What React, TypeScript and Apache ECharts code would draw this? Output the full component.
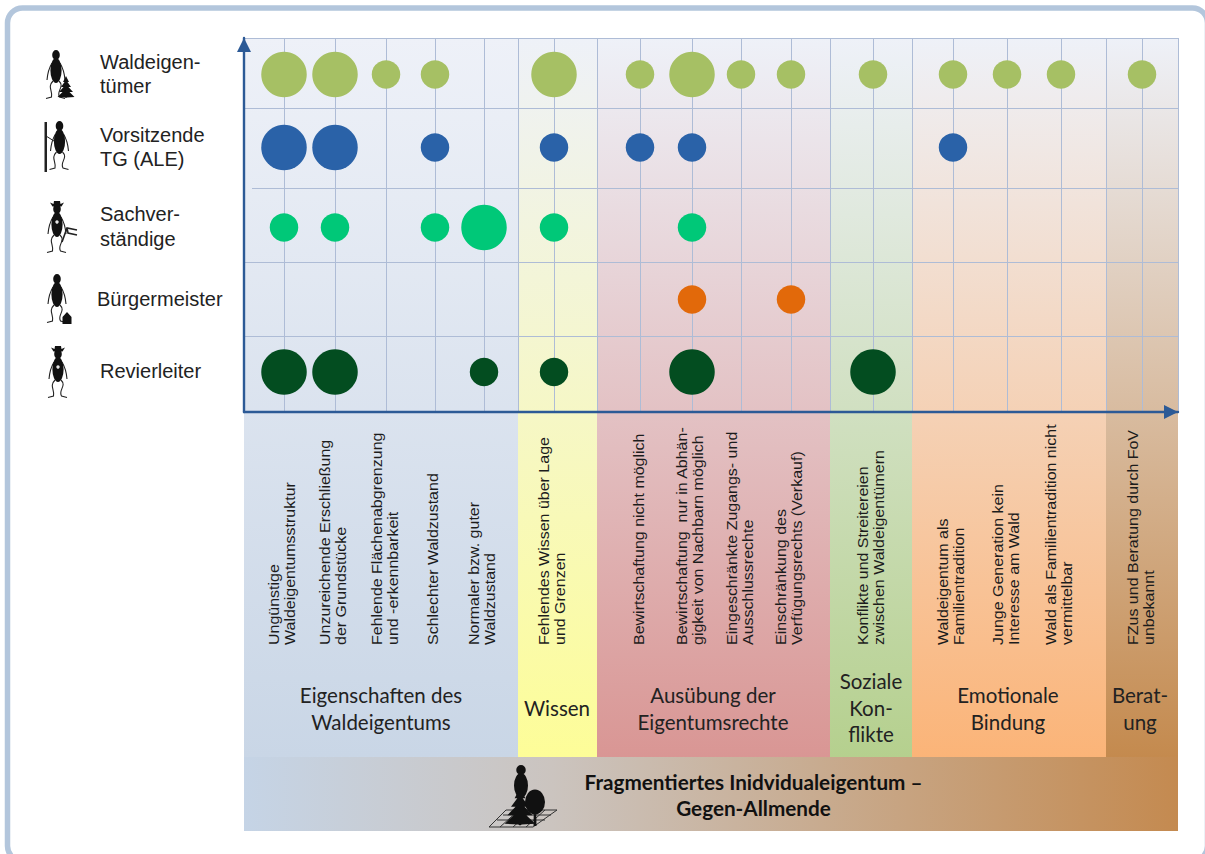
import React, { useEffect, useRef } from "react";
import * as echarts from "echarts";

// ---- data ----
// column positions along the horizontal scale (distance from the vertical axis)
const columnPositions = [40, 91, 142, 191, 240, 310, 396, 448, 497, 547, 629, 709, 763, 817, 898];
const groupDividers = [274, 353, 586, 668, 862, 934];
const rowDividers = [76, 150, 224, 304, 374];
const axisMaxX = 934;
const axisMaxY = 374;

const rowPositions = { waldeigentuemer: 337.5, vorsitzende: 264.5, sachverstaendige: 184.5, buergermeister: 112.5, revierleiter: 40 };

// importance level per column: 0 none, 1 small, 2 large
const waldeigentuemer = [2, 2, 1, 1, 0, 2, 1, 2, 1, 1, 1, 1, 1, 1, 1];
const vorsitzende = [2, 2, 0, 1, 0, 1, 1, 1, 0, 0, 0, 1, 0, 0, 0];
const sachverstaendige = [1, 1, 0, 1, 2, 1, 0, 1, 0, 0, 0, 0, 0, 0, 0];
const buergermeister = [0, 0, 0, 0, 0, 0, 0, 1, 0, 1, 0, 0, 0, 0, 0];
const revierleiter = [2, 2, 0, 0, 1, 1, 0, 2, 0, 0, 2, 0, 0, 0, 0];

const categories = [
  "Ungünstige\nWaldeigentumsstruktur",
  "Unzureichende Erschließung\nder Grundstücke",
  "Fehlende Flächenabgrenzung\nund -erkennbarkeit",
  "Schlechter Waldzustand",
  "Normaler bzw. guter\nWaldzustand",
  "Fehlendes Wissen über Lage\nund Grenzen",
  "Bewirtschaftung nicht möglich",
  "Bewirtschaftung  nur in Abhän-\ngigkeit von Nachbarn möglich",
  "Eingeschränkte Zugangs- und\nAusschlussrechte",
  "Einschränkung des\nVerfügungsrechts (Verkauf)",
  "Konflikte und Streitereien\nzwischen Waldeigentümern",
  "Waldeigentum als\nFamilientradition",
  "Junge Generation kein\nInteresse am Wald",
  "Wald als Familientradition nicht\nvermittelbar",
  "FZus und Beratung durch FoV\nunbekannt",
];
const categoryCentres = [282, 333, 385, 433, 482, 552, 639, 690, 740, 789, 871, 951, 1006, 1059, 1141];

const groups = ["Eigenschaften des\nWaldeigentums", "Wissen", "Ausübung der\nEigentumsrechte", "Soziale\nKon-\nflikte", "Emotionale\nBindung", "Berat-\nung"];
const groupColours = ["#c9d6e6", "#fdfd98", "#d99694", "#b5d08e", "#fbb478", "#c48a4e"];
const groupCentres = [381, 557, 713, 871, 1008, 1140];
const footerTitle = "Fragmentiertes Inidvidualeigentum –\nGegen-Allmende";

const actors = ["Waldeigen-\ntümer", "Vorsitzende\nTG (ALE)", "Sachver-\nständige", "Bürgermeister", "Revierleiter"];
const actorColours = ["#a6c064", "#2a62a8", "#00c878", "#e2690a", "#034d20"];

// ---- icon shapes ----
const ell = (cx: number, cy: number, rx: number, ry: number) =>
  `M${cx - rx} ${cy}A${rx} ${ry} 0 1 1 ${cx + rx} ${cy}A${rx} ${ry} 0 1 1 ${cx - rx} ${cy}Z`;
const bodyPath = ell(0, 5, 3.8, 5) + ell(0, 20.5, 5.6, 12.5);
const limbsPath =
  "M-4 13C-7 18-8.5 24-9 30M4 13C7 18 8.5 24 9 30" +
  "M-3 31C-9 37-3 41-4.5 47L-10 48.5M3 31C9 37 0 41 3.5 47L9 48.5";
const firPath =
  "M0 0L3 6L1.5 6L5 11L2.5 11L7 16L3.5 16L8.5 21L1 21.5L0 22L-1 21.5L-8.5 21L-3.5 16L-7 16L-2.5 11L-5 11L-1.5 6L-3 6Z";
const hatPath = "M-7 1.5L-3.5 3L-3 0L3 0L3.5 3L7 1.5L4.5 5.5L-4.5 5.5Z";
const housePath = "M0 0L4.5 5L4.5 12L-4.5 12L-4.5 5Z";
const rakePath = "M0 0L5 -14L15 -12M5 -14L6 -9L15 -7";
const treePath = ell(0, 12, 10, 12.5) + "M-1.2 20L1.2 20L1.5 36L-1.5 36Z";
const plotPath = "M0 17L17 0L68 0L44 17ZM11 17L30 0M24 17L43 0M37 17L56 0M8 10L56 10M14 5L62 5";
echarts.graphic.registerShape("personBody", echarts.graphic.extendPath(bodyPath, {}));
echarts.graphic.registerShape("personLimbs", echarts.graphic.extendPath(limbsPath, {}));
echarts.graphic.registerShape("fir", echarts.graphic.extendPath(firPath, {}));
echarts.graphic.registerShape("hat", echarts.graphic.extendPath(hatPath, {}));
echarts.graphic.registerShape("house", echarts.graphic.extendPath(housePath, {}));
echarts.graphic.registerShape("rake", echarts.graphic.extendPath(rakePath, {}));
echarts.graphic.registerShape("roundTree", echarts.graphic.extendPath(treePath, {}));
echarts.graphic.registerShape("plot", echarts.graphic.extendPath(plotPath, {}));

const INK = "#111111";
const person = (x: number, y: number, badge = false): any[] => {
  const out: any[] = [
    { type: "personLimbs", x, y, style: { fill: "none", stroke: "#222", lineWidth: 1.1 } },
    { type: "personBody", x, y, style: { fill: INK } },
  ];
  if (badge) out.push({ type: "circle", shape: { cx: x, cy: y + 18, r: 1.7 }, style: { fill: "#e8e8e8" } });
  return out;
};

function buildGraphic() {
  const els: any[] = [];
  // frame
  els.push({ type: "rect", z: -2, shape: { x: 7.5, y: 8, width: 1200, height: 853, r: 15 }, style: { fill: "#fff", stroke: "#b3c6dc", lineWidth: 5.5 } });
  // group panels
  const X0 = 244;
  let left = 0;
  groupDividers.forEach((d, i) => {
    els.push({
      type: "rect",
      z: -1,
      shape: { x: X0 + left, y: 38, width: d - left, height: 719 },
      style: {
        fill: new echarts.graphic.LinearGradient(0, 0, 0, 1, [
          { offset: 0, color: "#eef1f8" },
          { offset: 1, color: groupColours[i] },
        ]),
      },
    });
    left = d;
  });
  // footer band
  els.push({
    type: "rect",
    z: -1,
    shape: { x: X0, y: 757, width: 934, height: 74 },
    style: {
      fill: new echarts.graphic.LinearGradient(0, 0, 1, 0, [
        { offset: 0, color: "#c5d4e6" },
        { offset: 0.33, color: "#cbc4bf" },
        { offset: 1, color: "#c48a50" },
      ]),
    },
  });
  // rotated category labels
  categories.forEach((t, i) => {
    els.push({
      type: "text",
      x: categoryCentres[i],
      y: 645,
      rotation: Math.PI / 2,
      scaleY: 0.92,
      style: { text: t, fontFamily: "Liberation Sans", fontSize: 16, lineHeight: 17.9, fill: "#1c1c1c", align: "left", verticalAlign: "middle" },
    });
  });
  // group labels
  const groupY = [708.5, 708, 708.5, 707.5, 708.5, 708.5];
  groups.forEach((t, i) => {
    els.push({
      type: "text",
      x: groupCentres[i],
      y: groupY[i],
      style: { text: t, fontFamily: "Lato", fontSize: 20.5, lineHeight: 26.5, fill: "#222", align: "center", verticalAlign: "middle" },
    });
  });
  els.push({
    type: "text",
    x: 753.5,
    y: 795,
    style: { text: footerTitle, fontFamily: "Lato", fontWeight: "bold", fontSize: 20.7, lineHeight: 26, fill: "#111", align: "center", verticalAlign: "middle" },
  });
  // actor labels
  const actorX = [100, 100, 100, 97, 100];
  const actorY = [74, 147, 226.5, 299, 371];
  actors.forEach((t, i) => {
    els.push({
      type: "text",
      x: actorX[i],
      y: actorY[i],
      style: { text: t, fontFamily: "Liberation Sans", fontSize: 20, lineHeight: 24.5, fill: "#222", align: "left", verticalAlign: "middle" },
    });
  });
  // icons
  els.push(...person(56, 50));
  els.push({ type: "fir", x: 66, y: 76, style: { fill: INK } });
  els.push(...person(59.5, 121));
  els.push({ type: "rect", shape: { x: 44.5, y: 122, width: 2.5, height: 50 }, style: { fill: "#222" } });
  els.push({ type: "line", shape: { x1: 46, y1: 136, x2: 54, y2: 141 }, style: { stroke: "#222", lineWidth: 1 } });
  els.push(...person(57, 204, true));
  els.push({ type: "hat", x: 57, y: 201, style: { fill: INK } });
  els.push({ type: "rake", x: 62, y: 242, style: { fill: "none", stroke: "#222", lineWidth: 1.6 } });
  els.push(...person(57, 274));
  els.push({ type: "house", x: 67, y: 312, style: { fill: INK } });
  els.push(...person(58, 349, true));
  els.push({ type: "hat", x: 58, y: 346, style: { fill: INK } });
  // footer icon
  els.push({ type: "plot", x: 489, y: 810, style: { fill: "none", stroke: "#333", lineWidth: 1 } });
  els.push({ type: "personBody", x: 521, y: 765, scaleX: 1.25, scaleY: 1, style: { fill: INK } });
  els.push({ type: "fir", x: 520, y: 788, scaleX: 1.8, scaleY: 1.7, style: { fill: INK } });
  els.push({ type: "roundTree", x: 535, y: 790, style: { fill: INK } });
  return els;
}

export default function App() {
  const ref = useRef<HTMLDivElement>(null);
  useEffect(() => {
    document.body.style.margin = "0";
    document.body.style.overflow = "hidden";
    const chart = echarts.init(ref.current!, null, { renderer: "svg" });
    const rows = [
      { values: waldeigentuemer, y: rowPositions.waldeigentuemer },
      { values: vorsitzende, y: rowPositions.vorsitzende },
      { values: sachverstaendige, y: rowPositions.sachverstaendige },
      { values: buergermeister, y: rowPositions.buergermeister },
      { values: revierleiter, y: rowPositions.revierleiter },
    ];
    const lineStyle = { color: "#aebcd6", width: 1, type: "solid" as const };
    const verticals = [...columnPositions, ...groupDividers].map((x) => [
      { coord: [x, 0] },
      { coord: [x, axisMaxY] },
    ]);
    const horizontals = rowDividers.map((y, i) => [
      { coord: [i === 3 - 1 ? 8 : 0, y] },
      { coord: [axisMaxX, y] },
    ]);
    const axisBase = {
      type: "value",
      min: 0,
      z: 3,
      axisLine: {
        show: true,
        onZero: false,
        symbol: ["none", "triangle"],
        symbolSize: [14, 14],
        symbolOffset: [0, -7],
        lineStyle: { color: "#2c5a96", width: 2.4 },
      },
      axisTick: { show: false },
      axisLabel: { show: false },
      splitLine: { show: false },
    };
    chart.setOption({
      animation: false,
      grid: { left: 244, top: 38, right: 27, bottom: 442, containLabel: false },
      xAxis: { ...axisBase, max: axisMaxX },
      yAxis: { ...axisBase, max: axisMaxY },
      graphic: { elements: buildGraphic() },
      series: [
        {
          type: "scatter",
          name: "grid",
          silent: true,
          data: [],
          markLine: {
            silent: true,
            symbol: "none",
            z: 1,
            label: { show: false },
            lineStyle,
            data: [...verticals, ...horizontals],
          },
        },
        ...rows.map((r, i) => ({
          type: "scatter",
          name: actors[i].replace(/-?\n/g, ""),
          z: 4,
          data: columnPositions
            .map((x, c) => [x, r.y, r.values[c]])
            .filter((d) => d[2] > 0),
          symbolSize: (d: number[]) => (d[2] === 2 ? 45.5 : 28.5),
          itemStyle: { color: actorColours[i], opacity: 1 },
        })),
      ],
    });
    return () => chart.dispose();
  }, []);
  return <div ref={ref} style={{ position: "absolute", left: 0, top: 0, width: 1205, height: 854 }} />;
}
